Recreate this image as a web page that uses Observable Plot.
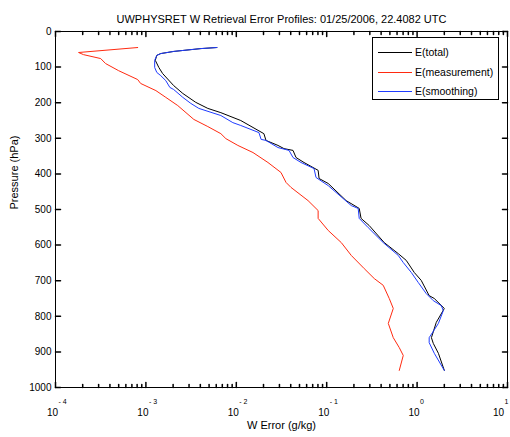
<!DOCTYPE html>
<html>
<head>
<meta charset="utf-8">
<script src="https://cdn.jsdelivr.net/npm/d3@7"></script>
<script src="https://cdn.jsdelivr.net/npm/@observablehq/plot@0.6"></script>
<style>
  html, body { margin: 0; padding: 0; background: #fff; }
  #chart { width: 510px; height: 437px; }
</style>
</head>
<body>
<div id="chart"></div>
<script>
const titleText = "UWPHYSRET W Retrieval Error Profiles: 01/25/2006, 22.4082 UTC";
const xLabel = "W Error (g/kg)";
const yLabel = "Pressure (hPa)";
const seriesNames = ["E(total)", "E(measurement)", "E(smoothing)"];
const seriesColors = ["#000000", "#ff2a10", "#1f3cff"];

// E(total)
const totalP = [45,48,56,62,67,81,101,118,152,174,199,216,228,250,287,306,320,329,334,354,368,390,413,427,475,497,525,545,593,624,643,677,699,742,750,778,817,860,876,904,952];
const totalE = [0.00610,0.00406,0.00203,0.00146,0.00132,0.00127,0.00139,0.00153,0.00203,0.00256,0.00356,0.00484,0.00675,0.0112,0.0202,0.0213,0.0289,0.0337,0.0424,0.0458,0.0561,0.0804,0.0824,0.104,0.164,0.229,0.240,0.295,0.433,0.619,0.759,0.931,1.11,1.36,1.55,2.00,1.63,1.44,1.51,1.72,2.00];

// E(measurement)
const measP = [45,59,65,76,90,110,135,146,166,185,208,247,267,287,301,320,340,368,396,424,438,475,503,525,559,593,629,666,694,713,750,778,820,860,888,910,952];
const measE = [0.000811,0.000180,0.000204,0.000316,0.000358,0.000499,0.000811,0.000875,0.00129,0.00166,0.00225,0.00339,0.00484,0.00675,0.00767,0.0104,0.0153,0.0224,0.0312,0.0355,0.0403,0.0622,0.0804,0.0804,0.104,0.145,0.187,0.260,0.336,0.422,0.492,0.545,0.480,0.545,0.635,0.703,0.635];

// E(smoothing)
const smoothP = [45,48,56,62,67,81,101,115,124,138,157,163,185,202,216,236,256,264,284,303,306,326,334,354,368,385,410,433,489,497,525,551,593,629,649,677,705,736,756,770,784,820,860,874,904,952];
const smoothE = [0.00610,0.00406,0.00203,0.00146,0.00132,0.00125,0.00125,0.00132,0.00146,0.00166,0.00184,0.00203,0.00256,0.00314,0.00385,0.00675,0.00916,0.0112,0.0178,0.0188,0.0213,0.0289,0.0383,0.0424,0.0520,0.0724,0.0762,0.104,0.187,0.223,0.229,0.288,0.422,0.619,0.703,0.863,1.03,1.26,1.51,1.85,1.95,1.72,1.36,1.36,1.55,2.00];

const xDecades = [-4,-3,-2,-1,0,1];
const yTicks = [0,100,200,300,400,500,600,700,800,900,1000];

const toRows = (P, E) => P.map((p, i) => ({p, e: E[i]}));
const totalRows = toRows(totalP, totalE);
const measRows = toRows(measP, measE);
const smoothRows = toRows(smoothP, smoothE);

const majorX = xDecades.map(d => Math.pow(10, d));
const minorX = [];
for (const d of xDecades.slice(0, -1)) for (let k = 2; k <= 9; k++) minorX.push(k * Math.pow(10, d));

const innerDecades = xDecades.slice(0, -1);
const edgeDecades = xDecades.slice(-1); // sits on the window's right edge: nudged inward

const tickShape = {draw(context, l) { context.moveTo(0, 0); context.lineTo(0, -l); }};
const font = "'Liberation Sans', Arial, Helvetica, sans-serif";
const expText = d => d < 0 ? "- " + (-d) : String(d);

const plot = Plot.plot({
  width: 510,
  height: 437,
  marginLeft: 55,
  marginRight: 3,
  marginTop: 31,
  marginBottom: 50,
  style: {fontFamily: font, fontSize: "10px", background: "#fff", color: "#000", overflow: "visible"},
  x: {type: "log", domain: [1e-4, 10], axis: null},
  y: {domain: [0, 1000], reverse: true, axis: null},
  marks: [
    Plot.line(totalRows, {x: "e", y: "p", stroke: seriesColors[0], strokeWidth: 1}),
    Plot.line(measRows, {x: "e", y: "p", stroke: seriesColors[1], strokeWidth: 1}),
    Plot.line(smoothRows, {x: "e", y: "p", stroke: seriesColors[2], strokeWidth: 1}),
    // ticks inward on all four sides
    Plot.vector(majorX, {x: d => d, frameAnchor: "bottom", length: 5, rotate: 0, anchor: "start", shape: tickShape, stroke: "#000"}),
    Plot.vector(minorX, {x: d => d, frameAnchor: "bottom", length: 3, rotate: 0, anchor: "start", shape: tickShape, stroke: "#000"}),
    Plot.vector(majorX, {x: d => d, frameAnchor: "top", length: 5, rotate: 180, anchor: "start", shape: tickShape, stroke: "#000"}),
    Plot.vector(minorX, {x: d => d, frameAnchor: "top", length: 3, rotate: 180, anchor: "start", shape: tickShape, stroke: "#000"}),
    Plot.vector(yTicks, {y: d => d, frameAnchor: "left", length: 5, rotate: 90, anchor: "start", shape: tickShape, stroke: "#000"}),
    Plot.vector(yTicks, {y: d => d, frameAnchor: "right", length: 5, rotate: -90, anchor: "start", shape: tickShape, stroke: "#000"}),
    Plot.frame({stroke: "#000"}),
    // tick labels
    Plot.text(yTicks, {y: d => d, text: d => String(d), frameAnchor: "left", dx: -4, textAnchor: "end", fontSize: 10}),
    Plot.text(innerDecades, {x: d => Math.pow(10, d), text: () => "10", frameAnchor: "bottom", dy: 28, dx: -3, fontSize: 10}),
    Plot.text(innerDecades, {x: d => Math.pow(10, d), text: expText, frameAnchor: "bottom", dy: 16, dx: 3, textAnchor: "start", fontSize: 7}),
    Plot.text(edgeDecades, {x: d => Math.pow(10, d), text: () => "10", frameAnchor: "bottom", dy: 28, dx: -9, fontSize: 10}),
    Plot.text(edgeDecades, {x: d => Math.pow(10, d), text: expText, frameAnchor: "bottom", dy: 16, dx: -3, textAnchor: "start", fontSize: 7}),
    // titles
    Plot.text([titleText], {text: d => d, frameAnchor: "top", dy: -16, fontSize: 11}),
    Plot.text([xLabel], {text: d => d, frameAnchor: "bottom", dy: 41, fontSize: 11}),
    Plot.text([yLabel], {text: d => d, frameAnchor: "left", dx: -41, rotate: -90, fontSize: 11})
  ]
});

document.getElementById("chart").appendChild(plot);

// legend box (inside the axes, top right)
const svg = d3.select(plot);
const lg = svg.append("g").attr("font-family", font).attr("font-size", 10.5).attr("text-anchor", "start");
lg.append("rect").attr("x", 372.5).attr("y", 37.5).attr("width", 126).attr("height", 62)
  .attr("fill", "#fff").attr("stroke", "#000");
const rowsY = [52, 72, 91];
seriesNames.forEach((name, i) => {
  lg.append("line").attr("x1", 378).attr("x2", 412).attr("y1", rowsY[i] + 0.5).attr("y2", rowsY[i] + 0.5)
    .attr("stroke", seriesColors[i]).attr("stroke-width", 1);
  lg.append("text").attr("x", 415).attr("y", rowsY[i]).attr("dy", "0.35em").attr("text-anchor", "start").text(name);
});
</script>
</body>
</html>
